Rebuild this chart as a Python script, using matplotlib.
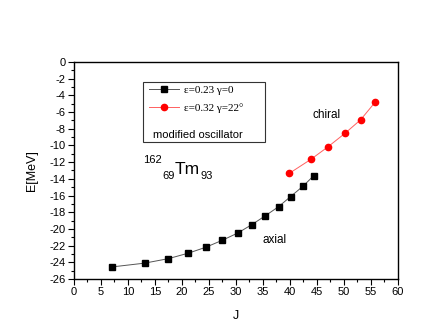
import numpy as np
import matplotlib
matplotlib.use("Agg")
import matplotlib.pyplot as plt
from matplotlib.ticker import MultipleLocator
from matplotlib.lines import Line2D
from matplotlib.patches import Rectangle

plt.rcParams['font.family'] = ['Liberation Sans', 'DejaVu Sans']
plt.rcParams['axes.unicode_minus'] = False

# axial band, eps=0.23 gamma=0
j_axial = [7.1, 13.1, 17.5, 21.2, 24.4, 27.5, 30.3, 32.9, 35.4, 37.9, 40.1, 42.4, 44.4]
e_axial = [-24.55, -24.1, -23.56, -22.9, -22.2, -21.35, -20.5, -19.5, -18.44, -17.33, -16.13, -14.89, -13.62]

# chiral band, eps=0.32 gamma=22
j_chiral = [39.9, 43.9, 47.0, 50.2, 53.1, 55.8]
e_chiral = [-13.33, -11.65, -10.18, -8.54, -6.91, -4.79]

fig = plt.figure(figsize=(4.36, 3.33), dpi=100)
ax = fig.add_axes([0.1697, 0.1622, 0.7431, 0.6516])

ax.plot(j_axial, e_axial, color='#555555', lw=0.7, marker='s', ms=4.2,
        mfc='black', mec='black')
ax.plot(j_chiral, e_chiral, color='#ff6060', lw=0.7, marker='o', ms=4.5,
        mfc='red', mec='red')

ax.set_xlim(0, 60)
ax.set_ylim(-26, 0)
ax.xaxis.set_major_locator(MultipleLocator(5))
ax.xaxis.set_minor_locator(MultipleLocator(2.5))
ax.yaxis.set_major_locator(MultipleLocator(2))
ax.yaxis.set_minor_locator(MultipleLocator(1))
ax.tick_params(which='major', direction='out', length=4, width=0.8, labelsize=8, pad=2)
ax.tick_params(which='minor', direction='out', length=2.5, width=0.8)
for s in ax.spines.values():
    s.set_linewidth(1.0)

ax.set_xlabel('J', fontsize=9, labelpad=9)
ax.set_ylabel('E[MeV]', fontsize=9, labelpad=8)

# legend box
ax.add_patch(Rectangle((0.213, 0.631), 0.377, 0.277, transform=ax.transAxes,
                       fill=False, ec='#333333', lw=0.8, zorder=5))
handles = [Line2D([], [], color='#555555', lw=0.7, marker='s', ms=4.2, mfc='black', mec='black'),
           Line2D([], [], color='#ff6060', lw=0.7, marker='o', ms=4.5, mfc='red', mec='red')]
labels = ['\u03b5=0.23 \u03b3=0', '\u03b5=0.32 \u03b3=22\u00b0']
ax.legend(handles, labels, loc='upper left', bbox_to_anchor=(0.232, 0.895),
          frameon=False, borderpad=0, borderaxespad=0, handlelength=2.7,
          handletextpad=0.45, labelspacing=0.75,
          prop={'family': 'Liberation Serif', 'size': 8})
ax.text(0.244, 0.664, 'modified oscillator', transform=ax.transAxes,
        fontsize=8, va='center', ha='left')

ax.text(46.7, -6.35, 'chiral', fontsize=8.5, ha='center', va='center')
ax.text(37.2, -21.3, 'axial', fontsize=8.5, ha='center', va='center')

ax.text(18.7, -13.41, 'Tm', fontsize=12.5, ha='left', va='baseline')
ax.text(12.78, -12.13, '162', fontsize=8, ha='left', va='baseline')
ax.text(16.4, -14.05, '69', fontsize=8, ha='left', va='baseline')
ax.text(23.4, -14.05, '93', fontsize=8, ha='left', va='baseline')

fig.savefig('out.png', dpi=100)
